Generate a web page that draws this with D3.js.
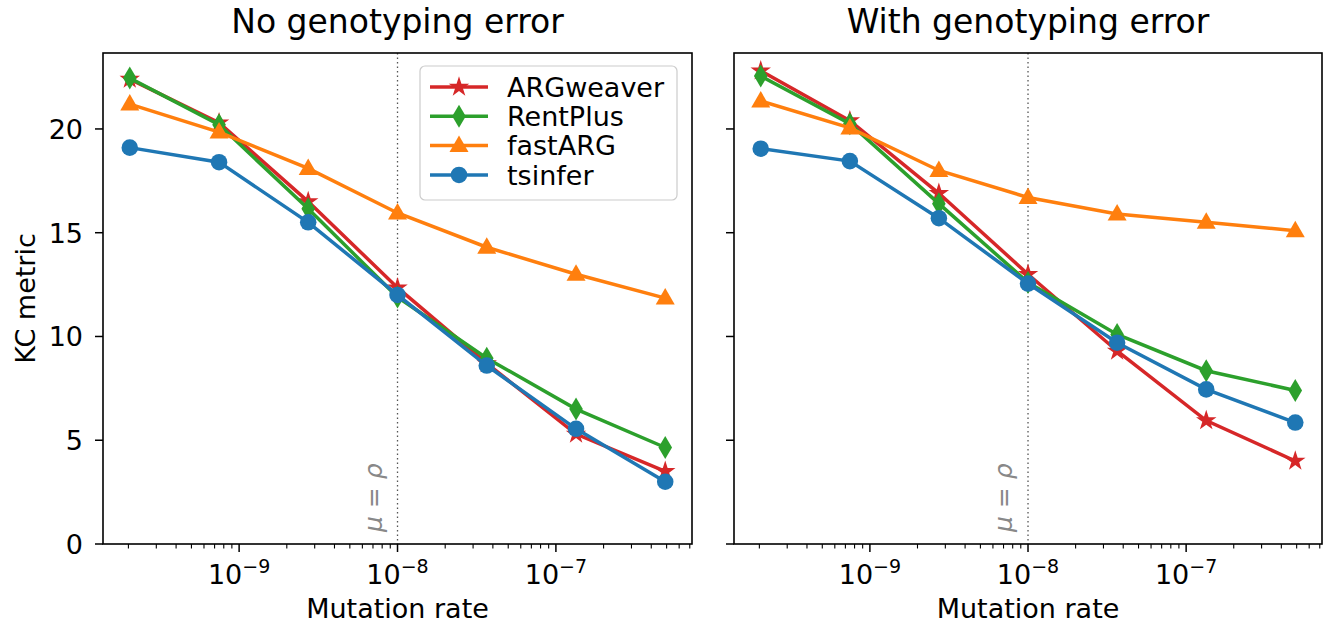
<!DOCTYPE html>
<html>
<head>
<meta charset="utf-8">
<script src="https://cdn.jsdelivr.net/npm/d3@7"></script>
<style>
  body { margin: 0; background: #fff; }
  svg { font-family: "DejaVu Sans", sans-serif; }
</style>
</head>
<body>
<svg id="chart" width="1334" height="631"></svg>
<script>
// Mutation rates (x values, log scale)
const mutationRates = [2.04e-10, 7.47e-10, 2.73e-9, 1e-8, 3.66e-8, 1.34e-7, 4.9e-7];
const methods = ["ARGweaver", "RentPlus", "fastARG", "tsinfer"];
const xTicks = [1e-9, 1e-8, 1e-7];
const xTickExp = ["\u22129", "\u22128", "\u22127"];
const yTicks = [0, 5, 10, 15, 20];

// KC metric, no genotyping error
const noErrArgweaver = [22.4, 20.3, 16.5, 12.35, 8.7, 5.3, 3.5];
const noErrRentplus  = [22.45, 20.2, 16.15, 11.9, 8.95, 6.5, 4.65];
const noErrFastarg   = [21.2, 19.85, 18.1, 15.95, 14.3, 13.0, 11.85];
const noErrTsinfer   = [19.1, 18.4, 15.5, 12.0, 8.6, 5.55, 3.0];

// KC metric, with genotyping error
const errArgweaver = [22.8, 20.4, 16.9, 13.0, 9.3, 5.95, 4.0];
const errRentplus  = [22.55, 20.25, 16.4, 12.6, 10.1, 8.35, 7.4];
const errFastarg   = [21.35, 20.05, 18.0, 16.7, 15.9, 15.5, 15.1];
const errTsinfer   = [19.05, 18.45, 15.7, 12.55, 9.7, 7.45, 5.85];

const colors = {ARGweaver: "#d62728", RentPlus: "#2ca02c", fastARG: "#ff7f0e", tsinfer: "#1f77b4"};

const svg = d3.select("#chart");
const plotTop = 53, plotBottom = 544;
const fs = 27;
const panels = [
  {left: 103, right: 692, title: "No genotyping error", showY: true,  legend: true,
   data: [noErrArgweaver, noErrRentplus, noErrFastarg, noErrTsinfer]},
  {left: 734, right: 1322, title: "With genotyping error", showY: false, legend: false,
   data: [errArgweaver, errRentplus, errFastarg, errTsinfer]}
];

// marker paths
function markerPath(name) {
  if (name === "ARGweaver") return d3.symbol(d3.symbolStar, 130)();
  if (name === "RentPlus") return "M0,-11.5L6.8,0L0,11.5L-6.8,0Z";
  if (name === "fastARG") return "M0,-10L9.5,6.5L-9.5,6.5Z";
  return d3.symbol(d3.symbolCircle, 215)();
}

// log-space margins like matplotlib (5%)
const lmin = Math.log10(d3.min(mutationRates)), lmax = Math.log10(d3.max(mutationRates));
const pad = (lmax - lmin) * 0.05;

panels.forEach(p => {
  const x = d3.scaleLog()
    .domain([Math.pow(10, lmin - pad), Math.pow(10, lmax + pad)])
    .range([p.left, p.right]);
  const y = d3.scaleLinear().domain([0, 23.66]).range([plotBottom, plotTop]);
  const g = svg.append("g");

  // vertical dotted line at mu = rho
  g.append("line")
    .attr("x1", x(1e-8)).attr("x2", x(1e-8))
    .attr("y1", plotTop).attr("y2", plotBottom)
    .attr("stroke", "#555").attr("stroke-width", 1.3)
    .attr("stroke-dasharray", "1.5,3");
  g.append("text")
    .attr("transform", `translate(${x(1e-8) - 16},${plotBottom - 12}) rotate(-90)`)
    .attr("font-size", 25).attr("fill", "#888").attr("font-style", "italic")
    .text("\u03bc = \u03c1");

  // series
  const line = d3.line().x((d, i) => x(mutationRates[i])).y(d => y(d));
  methods.forEach((m, k) => {
    const vals = p.data[k];
    g.append("path")
      .attr("d", line(vals))
      .attr("fill", "none")
      .attr("stroke", colors[m])
      .attr("stroke-width", 3.5);
    g.selectAll(null)
      .data(vals)
      .enter()
      .append("path")
      .attr("d", markerPath(m))
      .attr("transform", (d, i) => `translate(${x(mutationRates[i])},${y(d)})`)
      .attr("fill", colors[m]);
  });

  // x axis: major + minor ticks
  const minor = [];
  for (let e = -10; e <= -6; e++) {
    for (let j = 2; j <= 9; j++) {
      const v = j * Math.pow(10, e);
      if (v >= x.domain()[0] && v <= x.domain()[1]) minor.push(v);
    }
  }
  g.selectAll(null).data(minor).enter().append("line")
    .attr("x1", d => x(d)).attr("x2", d => x(d))
    .attr("y1", plotBottom).attr("y2", plotBottom + 4.5)
    .attr("stroke", "#000").attr("stroke-width", 1.1);
  g.selectAll(null).data(xTicks).enter().append("line")
    .attr("x1", d => x(d)).attr("x2", d => x(d))
    .attr("y1", plotBottom).attr("y2", plotBottom + 8)
    .attr("stroke", "#000").attr("stroke-width", 1.5);
  const xl = g.selectAll(null).data(xTicks).enter().append("text")
    .attr("x", d => x(d)).attr("y", plotBottom + 40)
    .attr("text-anchor", "middle")
    .attr("font-size", fs);
  xl.append("tspan").text("10");
  xl.append("tspan").attr("dy", -11).attr("font-size", 19).text((d, i) => xTickExp[i]);

  g.append("text")
    .attr("x", (p.left + p.right) / 2).attr("y", plotBottom + 74)
    .attr("text-anchor", "middle").attr("font-size", fs)
    .text("Mutation rate");

  // y axis ticks
  g.selectAll(null).data(yTicks).enter().append("line")
    .attr("x1", p.left - 8).attr("x2", p.left)
    .attr("y1", d => y(d)).attr("y2", d => y(d))
    .attr("stroke", "#000").attr("stroke-width", 1.5);
  if (p.showY) {
    g.selectAll(null).data(yTicks).enter().append("text")
      .attr("x", p.left - 20).attr("y", d => y(d) + 9.8)
      .attr("text-anchor", "end").attr("font-size", fs)
      .text(d => d);
    g.append("text")
      .attr("transform", `translate(35,${(plotTop + plotBottom) / 2}) rotate(-90)`)
      .attr("text-anchor", "middle").attr("font-size", fs)
      .text("KC metric");
  }

  // frame
  g.append("rect")
    .attr("x", p.left).attr("y", plotTop)
    .attr("width", p.right - p.left).attr("height", plotBottom - plotTop)
    .attr("fill", "none").attr("stroke", "#000").attr("stroke-width", 1.6);

  g.append("text")
    .attr("x", (p.left + p.right) / 2).attr("y", 33)
    .attr("text-anchor", "middle").attr("font-size", 33)
    .text(p.title);

  // legend
  if (p.legend) {
    const lg = g.append("g").attr("transform", "translate(420,66)");
    lg.append("rect")
      .attr("width", 257).attr("height", 134).attr("rx", 5)
      .attr("fill", "#fff").attr("fill-opacity", 0.85)
      .attr("stroke", "#ccc").attr("stroke-width", 1.2);
    methods.forEach((m, k) => {
      const yy = 21 + k * 29.3;
      lg.append("line").attr("x1", 10).attr("x2", 68).attr("y1", yy).attr("y2", yy)
        .attr("stroke", colors[m]).attr("stroke-width", 3.5);
      lg.append("path").attr("d", markerPath(m))
        .attr("transform", `translate(39,${yy})`).attr("fill", colors[m]);
      lg.append("text").attr("x", 87).attr("y", yy + 9.8)
        .attr("font-size", fs).text(m);
    });
  }
});
</script>
</body>
</html>
